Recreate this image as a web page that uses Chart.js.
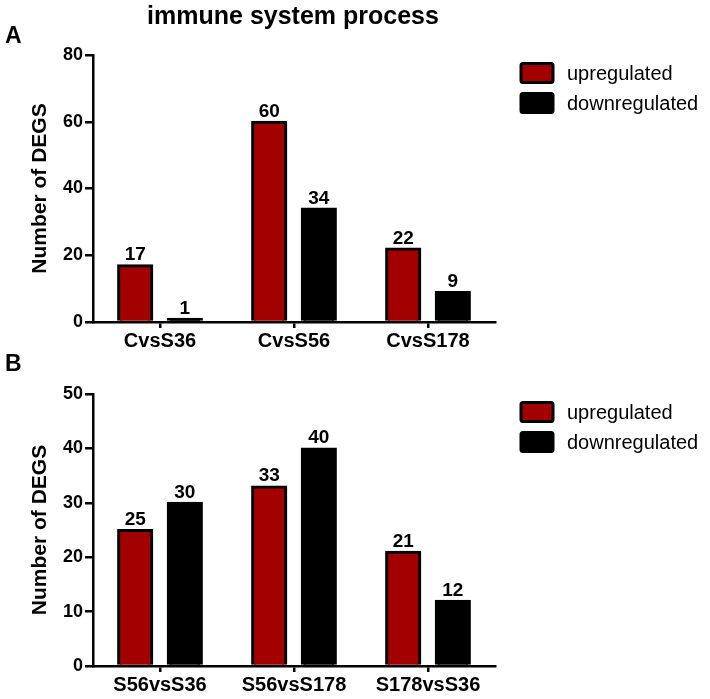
<!DOCTYPE html>
<html><head><meta charset="utf-8">
<script src="https://cdn.jsdelivr.net/npm/chart.js@4"></script>
<style>
html,body{margin:0;padding:0;background:#fff;}
#wrap{position:relative;width:710px;height:699px;overflow:hidden;}
canvas{position:absolute;left:0;}
#cA{top:0;} #cB{top:350px;}
</style></head><body>
<div id="wrap"><canvas id="cA" width="710" height="350"></canvas><canvas id="cB" width="710" height="349"></canvas></div>
<script>
const chartTitle = 'immune system process';
const seriesNames = ['upregulated', 'downregulated'];
const seriesColors = ['#a30000', '#000000'];
const categoriesA = ['CvsS36', 'CvsS56', 'CvsS178'];
const upA = [17, 60, 22];
const downA = [1, 34, 9];
const categoriesB = ['S56vsS36', 'S56vsS178', 'S178vsS36'];
const upB = [25, 33, 21];
const downB = [30, 40, 12];
const yTicksA = [0, 20, 40, 60, 80];
const yTicksB = [0, 10, 20, 30, 40, 50];
const yTitle = 'Number of DEGS';

const FONT = '"Liberation Sans", Arial, Helvetica, sans-serif';

const decorations = {
  id: 'decorations',
  afterDraw(chart, args, opts) {
    const ctx = chart.ctx;
    const ca = chart.chartArea;
    ctx.save();
    ctx.fillStyle = '#000';
    if (opts.title) {
      ctx.font = 'bold 25px ' + FONT;
      ctx.textAlign = 'center';
      ctx.textBaseline = 'alphabetic';
      ctx.fillText(opts.title, 293, 24);
    }
    ctx.font = 'bold 23px ' + FONT;
    ctx.textAlign = 'left';
    ctx.textBaseline = 'alphabetic';
    ctx.fillText(opts.letter, 5, opts.letterY);
    chart.data.datasets.forEach((ds, i) => {
      const cy = ca.top + 18 + i * 30;
      const bx = ca.right + 26;
      ctx.beginPath();
      if (ctx.roundRect) ctx.roundRect(bx, cy - 9.5, 32, 19, 2); else ctx.rect(bx, cy - 9.5, 32, 19);
      ctx.fillStyle = ds.backgroundColor;
      ctx.fill();
      ctx.lineWidth = 3;
      ctx.strokeStyle = '#000';
      ctx.stroke();
      ctx.fillStyle = '#000';
      ctx.font = '20px ' + FONT;
      ctx.textAlign = 'left';
      ctx.textBaseline = 'middle';
      ctx.fillText(ds.label, bx + 46, cy + 1);
    });
    ctx.restore();
  }
};

const valueLabels = {
  id: 'valueLabels',
  afterDatasetsDraw(chart) {
    const ctx = chart.ctx;
    ctx.save();
    ctx.font = 'bold 19px ' + FONT;
    ctx.fillStyle = '#000';
    ctx.textAlign = 'center';
    ctx.textBaseline = 'alphabetic';
    chart.data.datasets.forEach((ds, i) => {
      chart.getDatasetMeta(i).data.forEach((bar, j) => {
        ctx.fillText(String(ds.data[j]), bar.x, bar.y - 5);
      });
    });
    ctx.restore();
  }
};

function makeChart(id, cats, up, down, yTicks, topPad, xH, letter, letterY, title) {
  const barStyle = { borderColor: '#000', borderWidth: 3, inflateAmount: 1, categoryPercentage: 0.74, barPercentage: 0.69 };
  return new Chart(document.getElementById(id), {
    type: 'bar',
    data: {
      labels: cats,
      datasets: [
        Object.assign({ label: seriesNames[0], data: up, backgroundColor: seriesColors[0] }, barStyle),
        Object.assign({ label: seriesNames[1], data: down, backgroundColor: seriesColors[1] }, barStyle)
      ]
    },
    options: {
      responsive: false,
      animation: false,
      devicePixelRatio: 1,
      layout: { padding: { left: 0, right: 215, top: topPad, bottom: 0 } },
      plugins: {
        legend: { display: false },
        tooltip: { enabled: false },
        decorations: { letter: letter, letterY: letterY, title: title }
      },
      scales: {
        x: {
          offset: true,
          grid: { display: true, drawOnChartArea: false, drawTicks: true, tickLength: 6, offset: false, color: '#000', lineWidth: 2.5 },
          border: { display: true, color: '#000', width: 2.5 },
          ticks: { color: '#000', font: { family: FONT, size: 20, weight: 'bold' }, padding: 1, maxRotation: 0, autoSkip: false },
          afterFit(s) { s.height = xH; }
        },
        y: {
          min: yTicks[0],
          max: yTicks[yTicks.length - 1],
          afterBuildTicks(s) { s.ticks = yTicks.map(v => ({ value: v })); },
          grid: { display: true, drawOnChartArea: false, drawTicks: true, tickLength: 8, color: '#000', lineWidth: 2.5 },
          border: { display: true, color: '#000', width: 2.5 },
          ticks: { color: '#000', font: { family: FONT, size: 18, weight: 'bold' }, padding: 2 },
          title: { display: true, text: yTitle, color: '#000', font: { family: FONT, size: 21, weight: 'bold' }, padding: { top: 28, bottom: 0 } },
          afterFit(s) { s.width = 93; }
        }
      }
    },
    plugins: [valueLabels, decorations]
  });
}

makeChart('cA', categoriesA, upA, downA, yTicksA, 55, 28, 'A', 43, chartTitle);
makeChart('cB', categoriesB, upB, downB, yTicksB, 44, 33, 'B', 21, null);
</script>
</body></html>
